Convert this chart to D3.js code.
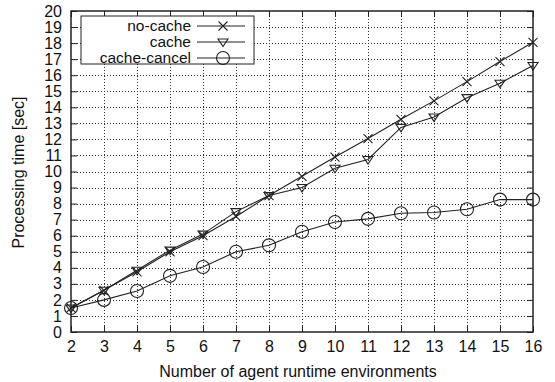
<!DOCTYPE html>
<html>
<head>
<meta charset="utf-8">
<script src="https://cdn.jsdelivr.net/npm/d3@7"></script>
<style>
  html, body { margin: 0; padding: 0; background: #fff; }
  svg { display: block; font-family: "Liberation Sans", Arial, Helvetica, sans-serif; }
</style>
</head>
<body>
<svg id="chart" width="555" height="382"></svg>
<script>
// agent runtime environments on x
const agents = [2, 3, 4, 5, 6, 7, 8, 9, 10, 11, 12, 13, 14, 15, 16];
const noCache = [1.5, 2.6, 3.75, 5.0, 6.0, 7.2, 8.5, 9.7, 10.9, 12.05, 13.25, 14.4, 15.6, 16.85, 18.05];
const cache = [1.5, 2.6, 3.85, 5.1, 6.1, 7.5, 8.5, 9.0, 10.2, 10.75, 12.75, 13.4, 14.6, 15.5, 16.6];
const cacheCancel = [1.5, 2.0, 2.55, 3.5, 4.05, 5.0, 5.4, 6.25, 6.85, 7.05, 7.4, 7.45, 7.65, 8.25, 8.25];
const yTicks = d3.range(0, 21);
const seriesNames = ['no-cache', 'cache', 'cache-cancel'];

const margin = { left: 71, right: 22, top: 11, bottom: 50 };
const width = 555, height = 382;

const svg = d3.select('#chart');

const x = d3.scaleLinear().domain([2, 16]).range([margin.left, width - margin.right]);
const y = d3.scaleLinear().domain([0, 20]).range([height - margin.bottom, margin.top]);

const x0 = x.range()[0], x1 = x.range()[1];
const y0 = y.range()[0], y1 = y.range()[1];

// dotted grid
const grid = svg.append('g').attr('stroke', '#333').attr('stroke-width', 1).attr('stroke-dasharray', '1,2');
grid.selectAll('line.v').data(agents.slice(1, -1)).join('line')
  .attr('x1', d => Math.round(x(d)) + 0.5).attr('x2', d => Math.round(x(d)) + 0.5)
  .attr('y1', y0).attr('y2', y1);
grid.selectAll('line.h').data(yTicks.slice(1, -1)).join('line')
  .attr('y1', d => Math.round(y(d)) + 0.5).attr('y2', d => Math.round(y(d)) + 0.5)
  .attr('x1', x0).attr('x2', x1);

// axes with mirrored inner ticks
const tickLen = 6;
const axB = svg.append('g').attr('transform', `translate(0,${y0})`)
  .call(d3.axisBottom(x).tickValues(agents).tickSizeInner(-tickLen).tickSizeOuter(0).tickPadding(9).tickFormat(d3.format('d')));
const axT = svg.append('g').attr('transform', `translate(0,${y1})`)
  .call(d3.axisTop(x).tickValues(agents).tickSizeInner(-tickLen).tickSizeOuter(0).tickFormat(''));
const axL = svg.append('g').attr('transform', `translate(${x0},0)`)
  .call(d3.axisLeft(y).tickValues(yTicks).tickSizeInner(-tickLen).tickSizeOuter(0).tickPadding(9).tickFormat(d3.format('d')));
const axR = svg.append('g').attr('transform', `translate(${x1},0)`)
  .call(d3.axisRight(y).tickValues(yTicks).tickSizeInner(-tickLen).tickSizeOuter(0).tickFormat(''));
[axB, axT, axL, axR].forEach(a => {
  a.select('.domain').remove();
  a.selectAll('line').attr('stroke', '#222');
  a.selectAll('text').attr('font-size', 16).attr('fill', '#111').attr('font-family', '"Liberation Sans", Arial, sans-serif');
});

svg.append('rect')
  .attr('x', x0).attr('y', y1).attr('width', x1 - x0).attr('height', y0 - y1)
  .attr('fill', 'none').attr('stroke', '#222').attr('stroke-width', 1.5);

// axis titles
svg.append('text')
  .attr('x', 298).attr('y', 377)
  .attr('text-anchor', 'middle').attr('font-size', 16).attr('fill', '#111')
  .text('Number of agent runtime environments');
svg.append('text')
  .attr('transform', `translate(24,${(y0 + y1) / 2 + 1}) rotate(-90)`)
  .attr('text-anchor', 'middle').attr('font-size', 16).attr('fill', '#111')
  .text('Processing time [sec]');

// markers
function drawMarker(g, kind, cx, cy) {
  if (kind === 'cross') {
    const s = 4.5;
    g.append('path').attr('d', `M${cx - s},${cy - s}L${cx + s},${cy + s}M${cx - s},${cy + s}L${cx + s},${cy - s}`)
      .attr('stroke', '#222').attr('fill', 'none').attr('stroke-width', 1.1);
  } else if (kind === 'tri') {
    const s = 5;
    g.append('path').attr('d', `M${cx - s},${cy - s * 0.6}L${cx + s},${cy - s * 0.6}L${cx},${cy + s * 0.9}Z`)
      .attr('stroke', '#222').attr('fill', 'none').attr('stroke-width', 1.1);
  } else {
    g.append('circle').attr('cx', cx).attr('cy', cy).attr('r', 6.5)
      .attr('stroke', '#222').attr('fill', 'none').attr('stroke-width', 1.1);
  }
}

const series = [
  { name: seriesNames[0], values: noCache, marker: 'cross' },
  { name: seriesNames[1], values: cache, marker: 'tri' },
  { name: seriesNames[2], values: cacheCancel, marker: 'circle' },
];

const line = d3.line().x(d => x(d[0])).y(d => y(d[1]));
series.forEach(s => {
  const pts = agents.map((a, i) => [a, s.values[i]]);
  const g = svg.append('g');
  g.append('path').attr('d', line(pts)).attr('fill', 'none').attr('stroke', '#222').attr('stroke-width', 1.1);
  pts.forEach(p => drawMarker(g, s.marker, x(p[0]), y(p[1])));
});

// legend
const legend = svg.append('g');
legend.append('rect').attr('x', 81).attr('y', 16).attr('width', 173).attr('height', 48)
  .attr('fill', '#fff').attr('stroke', '#222').attr('stroke-width', 1);
series.forEach((s, i) => {
  const ly = 26 + i * 16;
  legend.append('text').attr('x', 191).attr('y', ly + 5).attr('text-anchor', 'end')
    .attr('font-size', 15.5).attr('fill', '#111').text(s.name);
  legend.append('line').attr('x1', 197).attr('x2', 245).attr('y1', ly).attr('y2', ly)
    .attr('stroke', '#222').attr('stroke-width', 1.1);
  drawMarker(legend, s.marker, 223, ly);
});
</script>
</body>
</html>
